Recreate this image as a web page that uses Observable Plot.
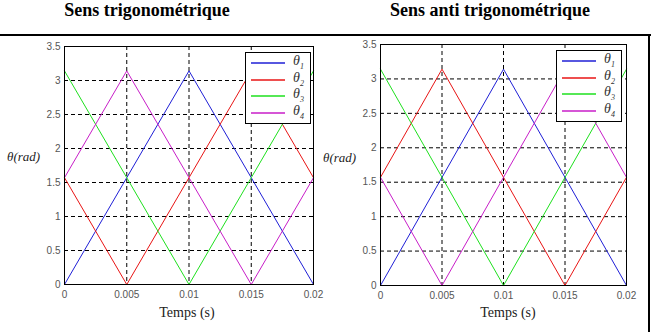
<!DOCTYPE html>
<html>
<head>
<meta charset="utf-8">
<script src="https://cdn.jsdelivr.net/npm/d3@7"></script>
<script src="https://cdn.jsdelivr.net/npm/@observablehq/plot@0.6"></script>
<style>
  html, body { margin: 0; padding: 0; background: #fff; }
  #wrap { position: relative; width: 652px; height: 332px; overflow: hidden; background: #fff; }
  .title { position: absolute; top: 0px; font: bold 18px "Liberation Serif", "Times New Roman", serif; color: #000; white-space: nowrap; transform: translateX(-50%); }
  .ylab { position: absolute; font: italic 13px "Liberation Serif", serif; color: #222; white-space: nowrap; }
  .xlab { position: absolute; font: 14px "Liberation Serif", serif; color: #222; white-space: nowrap; transform: translateX(-50%); }
  .legend { position: absolute; border: 1px solid #000; background: #fff; box-sizing: border-box; }
  .legend .row { position: absolute; left: 0; height: 14px; width: 100%; }
  .legend .row svg { position: absolute; left: 5px; top: 0; }
  .legend .row span { position: absolute; left: 47px; top: -4px; font: italic 14px "Liberation Serif", serif; color: #333; }
  .legend .row sub { font-size: 8px; }
  .frameTop { position: absolute; left: 0; top: 34px; width: 651px; height: 2px; background: #000; }
  .frameRight { position: absolute; left: 648px; top: 34px; width: 2px; height: 298px; background: #000; }
  .panel { position: absolute; }
</style>
</head>
<body>
<div id="wrap"></div>
<script>
// ---- data ----
const time = [0, 0.005, 0.01, 0.015, 0.02];
const seriesNames = ["θ1", "θ2", "θ3", "θ4"];
const seriesColors = ["#1f1fd6", "#e81414", "#1ee01e", "#c81ec8"];

// Sens trigonométrique
const trigoTheta1 = [0, 1.5708, 3.1416, 1.5708, 0];
const trigoTheta2 = [1.5708, 0, 1.5708, 3.1416, 1.5708];
const trigoTheta3 = [3.1416, 1.5708, 0, 1.5708, 3.1416];
const trigoTheta4 = [1.5708, 3.1416, 1.5708, 0, 1.5708];

// Sens anti trigonométrique
const antiTheta1 = [0, 1.5708, 3.1416, 1.5708, 0];
const antiTheta2 = [1.5708, 3.1416, 1.5708, 0, 1.5708];
const antiTheta3 = [3.1416, 1.5708, 0, 1.5708, 3.1416];
const antiTheta4 = [1.5708, 0, 1.5708, 3.1416, 1.5708];

const xTicks = [0, 0.005, 0.01, 0.015, 0.02];
const xTickLabels = ["0", "0.005", "0.01", "0.015", "0.02"];
const yTicks = [0, 0.5, 1, 1.5, 2, 2.5, 3, 3.5];
const xGrid = [0.005, 0.01, 0.015];
const yGrid = [0.5, 1, 1.5, 2, 2.5, 3];

const titles = ["Sens trigonométrique", "Sens anti trigonométrique"];

function toRows(seriesArrays) {
  const rows = [];
  seriesArrays.forEach((vals, i) => {
    vals.forEach((v, j) => rows.push({ t: time[j], v, s: seriesNames[i] }));
  });
  return rows;
}

function makePlot(rows, opts) {
  return Plot.plot({
    width: opts.width,
    height: opts.height,
    marginLeft: opts.ml,
    marginRight: opts.mr,
    marginTop: opts.mt,
    marginBottom: opts.mb,
    style: { fontFamily: "Liberation Sans, Arial, sans-serif", fontSize: "10px", color: "#555", background: "transparent", overflow: "visible" },
    x: { domain: [0, 0.02], ticks: xTicks, tickFormat: d => xTickLabels[xTicks.indexOf(d)], tickSize: 0, tickPadding: 6, label: null },
    y: { domain: [0, 3.5], ticks: yTicks, tickFormat: d => String(d), tickSize: 0, tickPadding: 4, label: null },
    color: { domain: seriesNames, range: seriesColors },
    marks: [
      Plot.ruleY(yGrid, { stroke: "#000", strokeDasharray: "4,3", strokeWidth: 1 }),
      Plot.ruleX(xGrid, { stroke: "#000", strokeDasharray: "4,3", strokeWidth: 1 }),
      Plot.line(rows, { x: "t", y: "v", z: "s", stroke: "s", strokeWidth: 1 }),
      Plot.frame({ stroke: "#000", strokeWidth: 1 })
    ]
  });
}

const wrap = document.getElementById("wrap");

function addPanel(rows, left, top, opts, ylab, xlabX, legendBox) {
  const div = document.createElement("div");
  div.className = "panel";
  div.style.left = left + "px";
  div.style.top = top + "px";
  div.appendChild(makePlot(rows, opts));
  wrap.appendChild(div);

  const y = document.createElement("div");
  y.className = "ylab";
  y.style.left = ylab[0] + "px";
  y.style.top = ylab[1] + "px";
  y.textContent = "θ(rad)";
  wrap.appendChild(y);

  const x = document.createElement("div");
  x.className = "xlab";
  x.style.left = xlabX + "px";
  x.style.top = "305px";
  x.textContent = "Temps (s)";
  wrap.appendChild(x);

  const lg = document.createElement("div");
  lg.className = "legend";
  lg.style.left = legendBox[0] + "px";
  lg.style.top = legendBox[1] + "px";
  lg.style.width = legendBox[2] + "px";
  lg.style.height = legendBox[3] + "px";
  seriesNames.forEach((name, i) => {
    const r = document.createElement("div");
    r.className = "row";
    r.style.top = (4 + i * 16.5) + "px";
    r.innerHTML = `<svg width="34" height="14"><line x1="0" x2="34" y1="6" y2="6" stroke="${seriesColors[i]}" stroke-width="1.3"/></svg><span>θ<sub>${name.slice(1)}</sub></span>`;
    lg.appendChild(r);
  });
  wrap.appendChild(lg);
}

addPanel(toRows([antiTheta1, antiTheta2, antiTheta3, antiTheta4]), 322, 35,
  { width: 326, height: 297, ml: 58, mr: 22, mt: 9, mb: 47 },
  [323, 150], 508, [556, 50, 66, 72]);

addPanel(toRows([trigoTheta1, trigoTheta2, trigoTheta3, trigoTheta4]), 0, 35,
  { width: 326, height: 297, ml: 64, mr: 13, mt: 11, mb: 48 },
  [7, 149], 187, [245, 52, 66, 72]);

titles.forEach((tt, i) => {
  const d = document.createElement("div");
  d.className = "title";
  d.style.left = (i === 0 ? 147 : 490) + "px";
  d.textContent = tt;
  wrap.appendChild(d);
});

const ft = document.createElement("div"); ft.className = "frameTop"; wrap.appendChild(ft);
const fr = document.createElement("div"); fr.className = "frameRight"; wrap.appendChild(fr);
</script>
</body>
</html>
